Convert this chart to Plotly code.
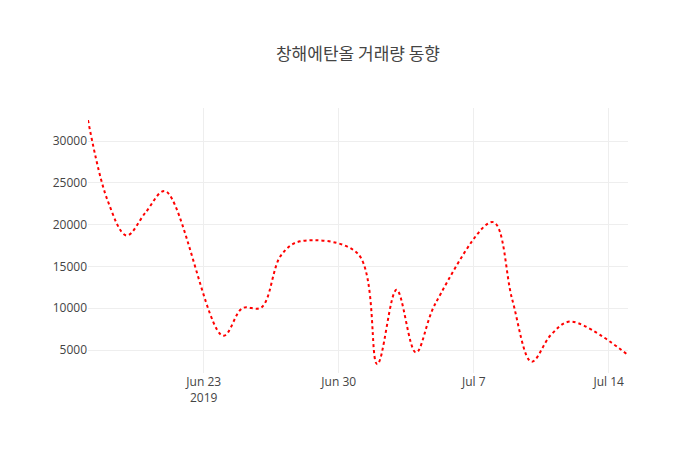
import plotly.graph_objects as go

dates = ["2019-06-17","2019-06-18","2019-06-19","2019-06-20","2019-06-21",
         "2019-06-24","2019-06-25","2019-06-26","2019-06-27","2019-06-28",
         "2019-07-01","2019-07-02","2019-07-03","2019-07-04","2019-07-05",
         "2019-07-08","2019-07-09","2019-07-10","2019-07-11","2019-07-12",
         "2019-07-15"]
volumes = [32500, 23000, 18700, 21500, 24000,
           6700, 10000, 10100, 16300, 18000,
           16500, 3300, 12200, 4700, 10500,
           20300, 11000, 3600, 6800, 8400,
           4400]

fig = go.Figure(go.Scatter(
    x=dates, y=volumes, mode="lines",
    line=dict(color="red", width=2, dash="dot", shape="spline"),
))
fig.update_layout(
    title=dict(text="창해에탄올 거래량 동향", x=0.5, y=0.91,
               font=dict(family="Noto Sans CJK KR", size=17, color="#444")),
    width=700, height=450,
    margin=dict(l=80, r=80, t=100, b=85),
    plot_bgcolor="white", paper_bgcolor="white",
    font=dict(family="Open Sans, Noto Sans CJK KR", color="#444", size=12),
    xaxis=dict(gridcolor="#eee", showline=False, zeroline=False, automargin=False),
    yaxis=dict(gridcolor="#eee", zeroline=False, range=[2250, 33950],
               tickformat="d", automargin=False),
    showlegend=False,
)
fig.write_html("out.html")
